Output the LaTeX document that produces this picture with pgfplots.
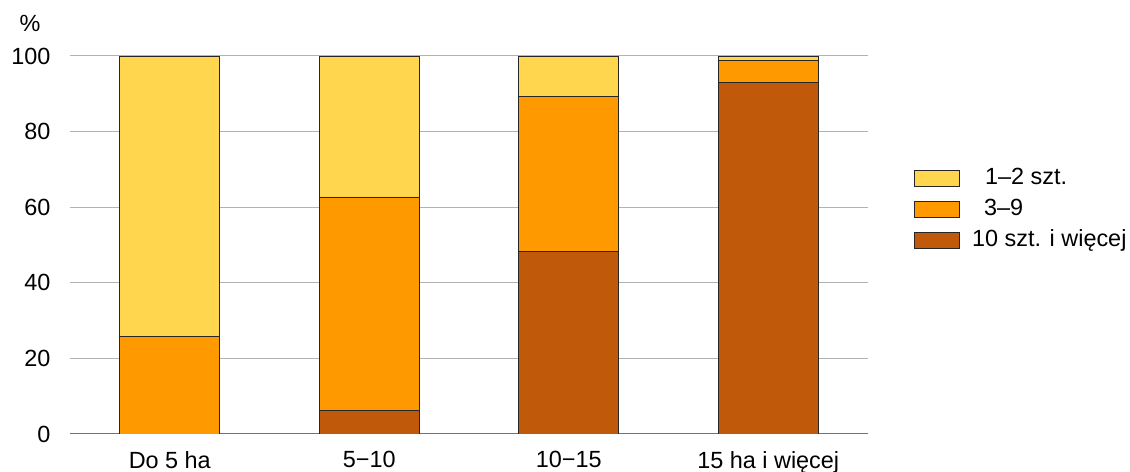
\documentclass[border=0pt]{standalone}
\usepackage{pgfplots}
\pgfplotsset{compat=1.18}
\usepackage{fontspec}
\setmainfont{Liberation Sans}
\definecolor{cYel}{RGB}{255,214,77}
\definecolor{cOra}{RGB}{255,153,0}
\definecolor{cBro}{RGB}{192,90,10}
\begin{document}
\begin{tikzpicture}[x=1bp,y=1bp]
\path[use as bounding box] (-70,-38) rectangle (1060,434);
\begin{axis}[
  at={(0,0)}, anchor=south west,
  scale only axis, width=798bp, height=378bp,
  ybar stacked, bar width=100bp,
  xmin=-0.5, xmax=3.5, ymin=0, ymax=100,
  xtick=data, xticklabels={Do 5 ha, 5−10, 10−15, 15 ha i więcej},
  ytick={0,20,...,100},
  font=\fontsize{23.5}{28}\selectfont,
  /pgf/number format/assume math mode=true,
  major tick length=0pt,
  axis x line*=bottom, axis y line*=left,
  y axis line style={draw=none},
  x axis line style={draw=black!55, line width=1bp, -},
  ymajorgrids, grid style={draw=black!30, line width=1bp},
  yticklabel style={xshift=-16bp},
  xticklabel style={yshift=-14bp},
  ylabel={\%},
  every axis y label/.style={at={(rel axis cs:0,1)}, anchor=center, xshift=-40bp, yshift=33bp},
  reverse legend,
  legend cell align=left,
  legend style={at={(rel axis cs:1.0576,0.706)}, anchor=north west, draw=none, fill=none,
    row sep=9bp, inner sep=0pt, nodes={inner xsep=0pt, inner ysep=0pt, text height=17bp, text depth=5bp}},
  legend image code/.code={\draw[#1, draw=black!85, line width=0.9bp] (0bp,-8bp) rectangle (45bp,8bp);},
  every axis plot/.append style={draw=black!85, line width=0.9bp},
]
\addplot[fill=cBro] coordinates {(0,0) (1,6.3) (2,48.4) (3,93.1)};
\addplot[fill=cOra] coordinates {(0,25.7) (1,56.4) (2,41.0) (3,5.6)};
\addplot[fill=cYel] coordinates {(0,74.3) (1,37.3) (2,10.6) (3,1.3)};
\legend{\hspace{12bp}10 szt. i więcej, \hspace{24bp}3–9, \hspace{25bp}1–2 szt.}
\end{axis}
\end{tikzpicture}
\end{document}
